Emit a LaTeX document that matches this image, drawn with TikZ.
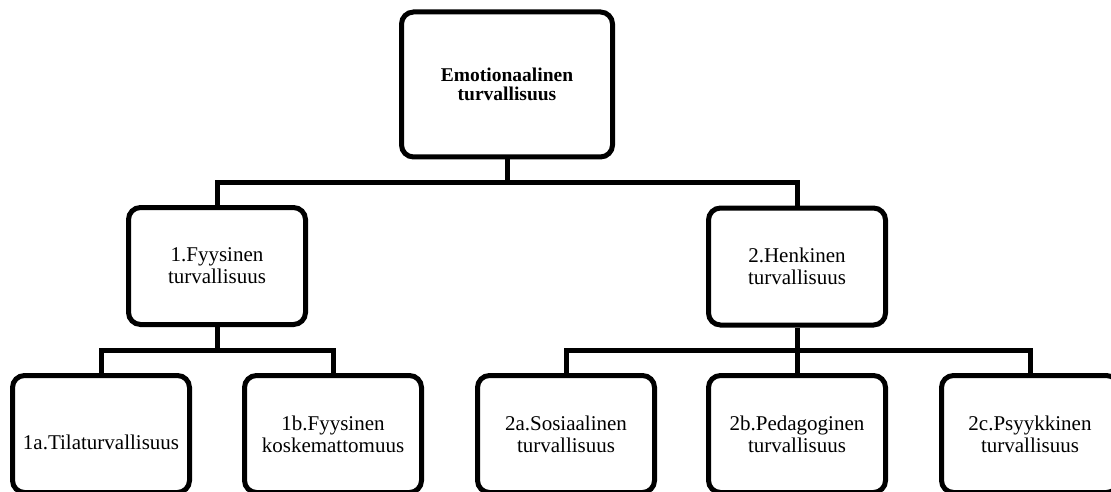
\documentclass[tikz,border=0pt]{standalone}
\usepackage{fontspec}
\setmainfont{Liberation Serif}
\begin{document}
\begin{tikzpicture}[x=1pt,y=-1pt,
  box/.style={draw, line width=5pt, rounded corners=12pt, align=center, inner sep=0pt,
    minimum width=177pt, minimum height=117pt, fill=white,
    font=\fontsize{21}{22}\selectfont},
  conn/.style={line width=5pt}]
\useasboundingbox (0,0) rectangle (1111,492);
\node[box, minimum width=211pt, minimum height=145pt, font=\bfseries\fontsize{19.5}{19}\selectfont] (top) at (507,84.5) {Emotionaalinen\\turvallisuus};
\node[box] (b1) at (217,266) {1.Fyysinen\\turvallisuus};
\node[box] (b2) at (797,266.5) {2.Henkinen\\turvallisuus};
\node[box] (b1a) at (101,434) {\raisebox{-8pt}[\height][\depth]{1a.Tilaturvallisuus}};
\node[box] (b1b) at (333,434) {1b.Fyysinen\\koskemattomuus};
\node[box] (b2a) at (566,434) {2a.Sosiaalinen\\turvallisuus};
\node[box] (b2b) at (797,434) {2b.Pedagoginen\\turvallisuus};
\node[box] (b2c) at (1030,434) {2c.Psyykkinen\\turvallisuus};
\coordinate (j0) at (507,182);
\coordinate (j1) at (217,350);
\draw[conn] (top.south) -- (j0);
\draw[conn] (b1.north) |- (j0) -| (b2.north);
\draw[conn] (b1.south) -- (j1);
\draw[conn] (b1a.north) |- (j1) -| (b1b.north);
\draw[conn] (b2.south) -- (b2b.north);
\draw[conn] (b2a.north) |- (b2.south |- j1) -| (b2c.north);
\end{tikzpicture}
\end{document}
